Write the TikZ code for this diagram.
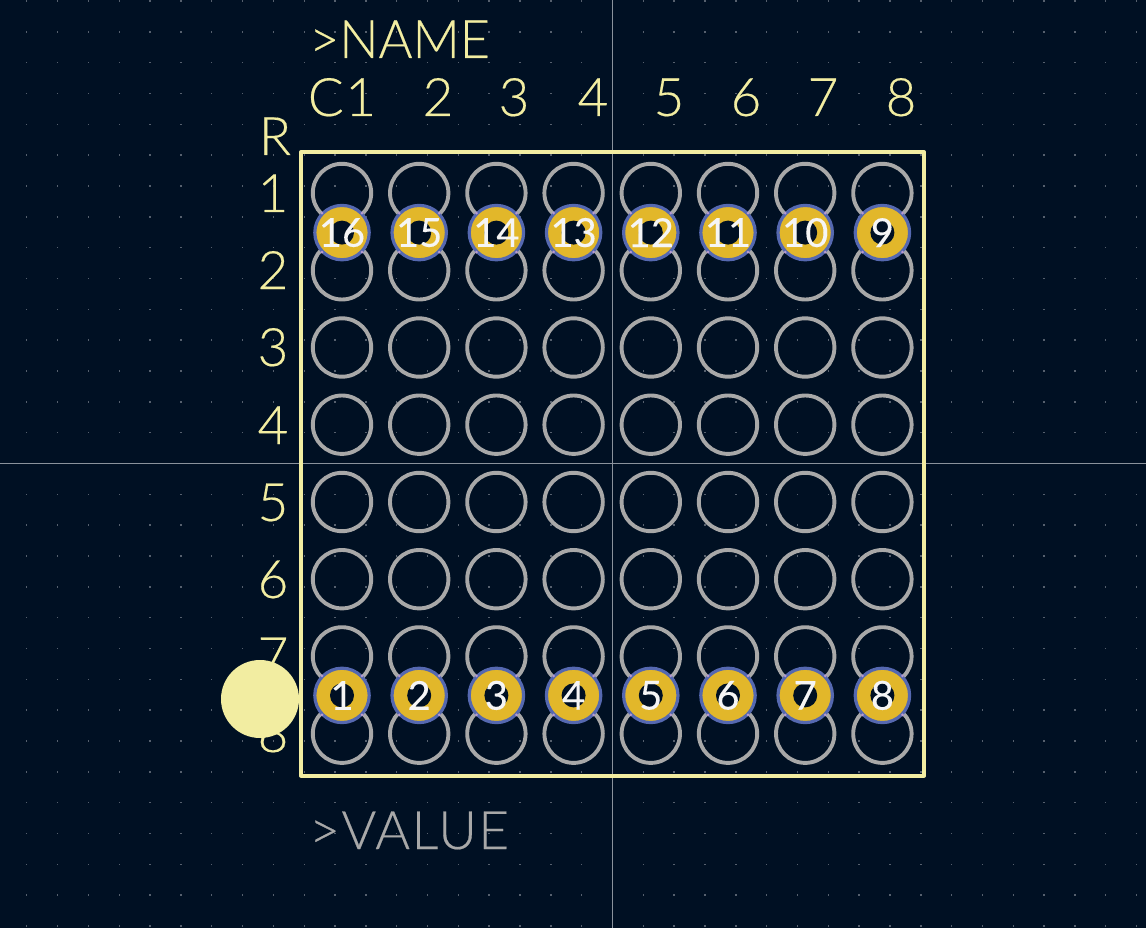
\documentclass[tikz,border=0pt]{standalone}
\usepackage{fontspec}
\setmainfont{Liberation Sans}
\newfontfamily\silkfont[FakeStretch=1.0,FakeBold=0.35,LetterSpace=3]{Lato Light}
\newfontfamily\namefont[FakeStretch=0.98,FakeBold=0.35,LetterSpace=0]{Lato Light}
\newfontfamily\padfont[FakeStretch=1.0,FakeBold=0.1]{Lato}
\definecolor{bgc}{HTML}{001023}
\definecolor{silk}{HTML}{F2EDA1}
\definecolor{fab}{HTML}{A8A8A8}
\definecolor{gold}{HTML}{E2B72A}
\definecolor{ring}{HTML}{5568B0}
\definecolor{griddot}{HTML}{56606E}
\definecolor{axis}{HTML}{8A929C}
\definecolor{cross}{HTML}{B79AD0}
\tikzset{
  silktext/.style={text=silk,inner sep=0pt,font=\silkfont\fontsize{53}{53}\selectfont},
  nametext/.style={text=silk,inner sep=0pt,font=\namefont\fontsize{53}{53}\selectfont},
  valtext/.style={text=fab,inner sep=0pt,font=\silkfont\fontsize{53}{53}\selectfont},
  padtext/.style={text=white!92!gray,inner sep=0pt,font=\padfont\fontsize{40}{40}\selectfont},
  courtyard/.style={draw=fab,line width=3.9pt},
  padbody/.style={fill=gold,draw=ring,line width=3.2pt},
  padhole/.style={fill=bgc,draw=none},
  outline/.style={draw=silk,line width=4pt,line join=round,line cap=round},
  axisline/.style={draw=axis,line width=0.8pt},
}
\begin{document}
\begin{tikzpicture}[x=1pt,y=-1pt]
\useasboundingbox (0,0) rectangle (1146,928);
\fill[bgc] (0,0) rectangle (1146,928);
% grid dots
\foreach \i in {-20,...,17}{
  \foreach \j in {-15,...,15}{
    \fill[griddot] ({612.5+\i*30.83-0.7},{463.5+\j*30.83-0.7}) rectangle ++(1.4,1.4);
  }
}
% axes
\draw[axisline] (612.5,0) -- (612.5,928);
\draw[axisline] (0,463.5) -- (1146,463.5);
% texts
\node[nametext,anchor=base west] (name) at (309,58) {>NAME};
\node[silktext,anchor=base] (c1) at (342,116) {C1};
\foreach \t/\x in {2/438,3/514,4/593,5/669,6/746,7/823,8/901}{
  \node[silktext,anchor=base] (col\t) at (\x,116) {\t};
}
\node[silktext,anchor=base] (rowR) at (275,155) {R};
\foreach \t/\y in {1/212,2/289,3/366,4/444,5/521,6/598,7/675,8/752}{
  \node[silktext,anchor=base] (row\t) at (273,\y) {\t};
}
\node[valtext,anchor=base west] (value) at (309,849) {>VALUE};
% outline
\draw[outline] (301,152) rectangle (924,775.5);
\fill[silk] (260,699) circle (39);
% courtyard circles
\foreach \y in {193,270.3,347.5,424.7,502,579.2,656.4,733.7}{
  \foreach \c in {0,...,7}{
    \draw[courtyard] ({342+\c*77.2},\y) circle (29.2);
  }
}
% pads
\foreach \c/\top/\bot in {0/16/1,1/15/2,2/14/3,3/13/4,4/12/5,5/11/6,6/10/7,7/9/8}{
  \pgfmathsetmacro{\px}{342+\c*77.2}
  \foreach \py/\lab in {232.6/\top,695.4/\bot}{
    \draw[padbody] (\px,\py) circle (27.2);
    \fill[padhole] (\px,\py) circle (12);
    \foreach \dx/\dy in {-20/-19.5,20/-19.5,-20/19.5,20/19.5}{
      \fill[cross] ({\px+\dx},{\py+\dy}) circle (1.5);
    }
    \node[padtext] (pad\lab) at (\px,\py) {\lab};
  }
}
\end{tikzpicture}
\end{document}
